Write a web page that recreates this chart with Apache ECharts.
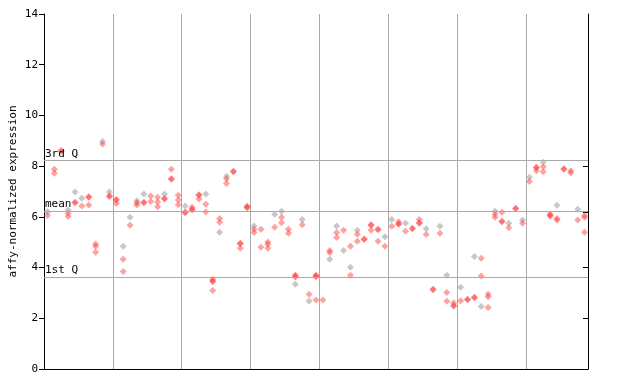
<!DOCTYPE html>
<html><head><meta charset="utf-8">
<script src="https://cdn.jsdelivr.net/npm/echarts@6/dist/echarts.min.js"></script>
<style>html,body{margin:0;padding:0;background:#fff}#c{width:640px;height:384px}</style>
</head><body><div id="c"></div>
<script>
// per-sample values (one entry per sample, each a list of replicate values)
const redValues = [
  [6.05], [7.88, 7.72], [8.62, 8.58], [6.14, 6.01], [6.56, 6.58], [6.43], [6.77, 6.79, 6.47], [4.93, 4.84, 4.60], [8.87], [6.80, 6.82],
  [6.66, 6.68, 6.53], [4.33, 3.85], [5.67], [6.56, 6.47], [6.56, 6.58], [6.82, 6.61], [6.77, 6.59, 6.40], [6.70, 6.72], [7.88, 7.48, 7.50], [6.85, 6.66, 6.48],
  [6.16, 6.18], [6.38, 6.30, 6.27], [6.85, 6.87, 6.70], [6.50, 6.19], [3.54, 3.48, 3.44, 3.10], [5.94, 5.79], [7.50, 7.32], [7.78, 7.80], [4.94, 4.96, 4.76], [6.43, 6.38, 6.36],
  [5.51, 5.38], [5.51, 4.80], [5.01, 4.92, 4.76], [5.59], [5.98, 5.77], [5.51, 5.35], [3.71, 3.64, 3.66], [5.69], [2.95], [3.71, 3.64, 3.66, 2.72],
  [2.72], [4.67, 4.59], [5.38, 5.19], [5.47], [4.84, 3.70], [5.31, 5.04], [5.11, 5.13], [5.67, 5.69, 5.47], [5.49, 5.51, 5.04], [4.84],
  [5.63], [5.81, 5.71, 5.73], [5.43], [5.53, 5.55], [5.90, 5.75, 5.77], [5.30], [3.13, 3.15], [5.35], [3.02, 2.67], [2.61, 2.48, 2.50],
  [2.69], [2.73, 2.75], [2.81, 2.83], [4.37, 3.67], [2.95, 2.85, 2.43], [6.10, 5.98], [6.18, 5.81, 5.83], [5.57], [6.32, 6.34], [5.75],
  [7.39], [7.94, 7.96, 7.82], [7.98, 7.78], [6.11, 6.03, 6.05], [5.94, 5.88], [7.88, 7.90], [7.82, 7.74], [5.88], [6.05, 5.98, 5.39]
];
const greyValues = [
  [6.2], [], [], [6.27], [6.98], [6.73], [], [], [8.97], [6.98],
  [], [4.84], [5.98], [6.64], [6.90], [], [], [6.90], [], [],
  [6.43], [], [], [6.90], [], [5.39], [7.60], [], [], [],
  [5.64], [], [], [6.10], [6.22], [], [3.34], [5.90], [2.68], [],
  [], [4.33], [5.64], [4.67], [4.01], [5.47], [], [], [], [5.22],
  [5.90], [], [5.75], [], [], [5.53], [], [5.63], [3.70], [],
  [3.22], [], [4.44], [2.46], [], [6.22], [], [5.75], [], [5.88],
  [7.56], [], [8.15], [], [6.46], [], [], [6.30], []
];
const yTicks = [0, 2, 4, 6, 8, 10, 12, 14];
const refLines = [
  { name: '3rd Q', value: 8.23 },
  { name: 'mean', value: 6.23 },
  { name: '1st Q', value: 3.63 }
];
const rightTicks = [2, 4, 6.2, 8];
const axisTitle = 'affy-normalized expression';

const nSamples = redValues.length;
function toPoints(list) {
  const pts = [];
  list.forEach((vals, i) => vals.forEach(v => pts.push([i + 0.5, v])));
  return pts;
}
const font = 'DejaVu Sans Mono';
const chart = echarts.init(document.getElementById('c'), null, { renderer: 'canvas' });
chart.setOption({
  animation: false,
  backgroundColor: '#fff',
  grid: { left: 44, right: 52, top: 14, bottom: 15, containLabel: false, outerBoundsMode: 'none' },
  xAxis: {
    type: 'value', min: 0, max: nSamples, interval: 10,
    axisLine: { show: true, onZero: false, lineStyle: { color: '#000', width: 1 } },
    axisTick: { show: false }, axisLabel: { show: false },
    splitLine: { show: true, lineStyle: { color: '#aaa', width: 1 } }
  },
  yAxis: [{
    type: 'value', min: yTicks[0], max: yTicks[yTicks.length - 1], interval: 2,
    name: axisTitle, nameLocation: 'middle', nameGap: 25, nameMoveOverlap: false,
    nameTextStyle: { fontFamily: font, fontSize: 11, color: '#000' },
    axisLine: { show: true, lineStyle: { color: '#000', width: 1 } },
    axisTick: { show: true, length: 5, lineStyle: { color: '#000' } },
    axisLabel: { fontFamily: font, fontSize: 11, color: '#000', margin: 6 },
    splitLine: { show: false }
  }, {
    type: 'value', min: 0, max: 14, position: 'right',
    axisLine: { show: true, lineStyle: { color: '#000', width: 1 } },
    axisTick: { show: true, inside: true, length: 5, customValues: rightTicks, lineStyle: { color: '#000' } },
    axisLabel: { show: false }, splitLine: { show: false }
  }],
  series: [{
    type: 'scatter', symbol: 'diamond', symbolSize: 7,
    itemStyle: { color: 'rgba(150,150,150,0.65)' },
    data: toPoints(greyValues), z: 2,
    markLine: {
      silent: true, symbol: 'none',
      lineStyle: { color: '#aaa', width: 1, type: 'solid' },
      label: { show: true, position: 'insideStartTop', distance: [1, 1], formatter: p => p.name,
               fontFamily: font, fontSize: 11, color: '#000' },
      data: refLines.map(r => ({ name: r.name, yAxis: r.value }))
    }
  }, {
    type: 'scatter', symbol: 'diamond', symbolSize: 7,
    itemStyle: { color: 'rgba(255,60,60,0.6)' },
    data: toPoints(redValues), z: 3
  }]
});
</script></body></html>
